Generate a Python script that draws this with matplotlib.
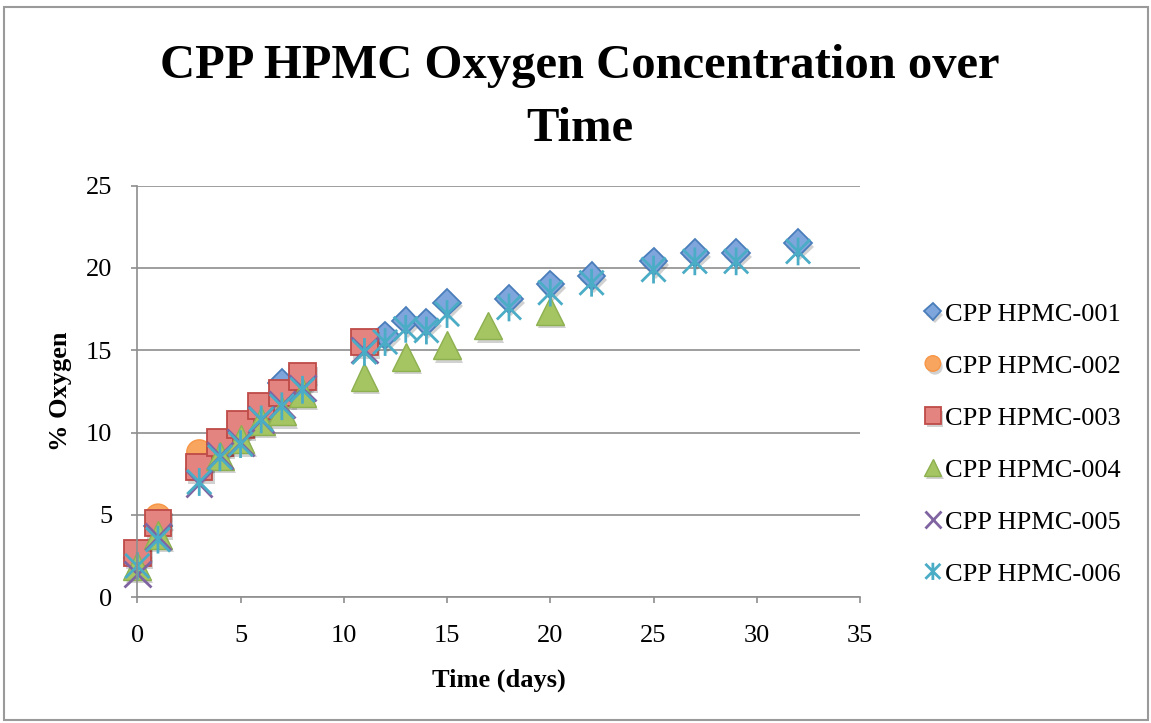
import numpy as np
import matplotlib
matplotlib.use("Agg")
import matplotlib.pyplot as plt
from matplotlib.path import Path
from matplotlib.patches import Rectangle
import matplotlib.patheffects as pe

plt.rcParams['font.family'] = ['Liberation Serif', 'DejaVu Serif']

# Oxygen readings (%) per sample, days since start
days_001 = [0, 1, 3, 4, 5, 6, 7, 8, 12, 13, 14, 15, 18, 20, 22, 25, 27, 29, 32]
oxy_001 = [2.4, 4.3, 7.8, 9.1, 10.2, 11.2, 13.0, 13.1, 15.9, 16.8, 16.7, 17.9,
           18.1, 19.0, 19.5, 20.4, 20.9, 20.9, 21.5]

days_002 = [0, 1, 3, 4, 5, 6, 7, 8]
oxy_002 = [2.6, 4.9, 8.8, 9.2, 10.3, 11.4, 12.3, 13.2]

days_003 = [0, 1, 3, 4, 5, 6, 7, 8, 11]
oxy_003 = [2.7, 4.5, 7.9, 9.4, 10.5, 11.6, 12.4, 13.4, 15.5]

days_004 = [0, 1, 4, 5, 6, 7, 8, 11, 13, 15, 17, 20]
oxy_004 = [1.9, 3.8, 8.6, 9.6, 10.7, 11.3, 12.4, 13.4, 14.6, 15.3, 16.5, 17.4]

days_005 = [0, 1, 3, 4, 5, 6, 7, 8, 11]
oxy_005 = [1.4, 3.7, 6.9, 8.6, 9.4, 10.8, 11.7, 12.7, 15.0]

days_006 = [0, 1, 3, 4, 5, 6, 7, 8, 11, 12, 13, 14, 15, 18, 20, 22, 25, 27, 29, 32]
oxy_006 = [1.9, 3.5, 7.0, 8.5, 9.3, 10.8, 11.6, 12.6, 14.9, 15.5, 16.3, 16.2,
           17.2, 17.6, 18.5, 19.1, 19.9, 20.4, 20.4, 21.0]

labels = ['CPP HPMC-001', 'CPP HPMC-002', 'CPP HPMC-003',
          'CPP HPMC-004', 'CPP HPMC-005', 'CPP HPMC-006']

# asterisk marker: an X with a vertical stroke through it
star_path = Path([(-1, -1), (1, 1), (-1, 1), (1, -1), (0, -1.15), (0, 1.15)],
                 [Path.MOVETO, Path.LINETO, Path.MOVETO, Path.LINETO,
                  Path.MOVETO, Path.LINETO])

shadow = [pe.SimplePatchShadow(offset=(1.5, -2.5), shadow_rgbFace='k', alpha=0.18),
          pe.Normal()]

styles = [
    dict(marker='D', ms=14, mfc='#7FA6DC', mec='#4A7EBB', mew=1.3),
    dict(marker='o', ms=18, mfc='#F8A560', mec='#F79646', mew=1.0),
    dict(marker='s', ms=19, mfc='#E48481', mec='#BE4B48', mew=1.3),
    dict(marker='^', ms=20, mfc='#A5C462', mec='#8DB050', mew=1.0),
    dict(marker='x', ms=19, mfc='none', mec='#8064A2', mew=2.0),
    dict(marker=star_path, ms=20, mfc='none', mec='#4BACC6', mew=2.0),
]

series = [(days_001, oxy_001), (days_002, oxy_002), (days_003, oxy_003),
          (days_004, oxy_004), (days_005, oxy_005), (days_006, oxy_006)]

fig = plt.figure(figsize=(11.51, 7.23), dpi=100)
ax = fig.add_axes([0.1193, 0.1739, 0.6279, 0.5694])

handles = []
for (x, y), st, lab in zip(series, styles, labels):
    h, = ax.plot(x, y, linestyle='none', label=lab, clip_on=False, **st)
    h.set_path_effects(shadow)
    handles.append(h)

ax.set_xlim(0, 35)
ax.set_ylim(0, 25)
ax.set_xticks(np.arange(0, 36, 5))
ax.set_yticks(np.arange(0, 26, 5))
ax.yaxis.grid(True, color='#8E8E8E', linewidth=1.2)
ax.set_axisbelow(True)
for side in ['top', 'right']:
    ax.spines[side].set_visible(False)
for side in ['left', 'bottom']:
    ax.spines[side].set_color('#8E8E8E')
    ax.spines[side].set_linewidth(1.2)
ax.tick_params(axis='both', colors='#8E8E8E', labelcolor='black',
               labelsize=19, length=4, width=1.2)
ax.tick_params(axis='y', pad=14)
ax.tick_params(axis='x', pad=16)

ax.set_xlabel('Time (days)', fontsize=19, fontweight='bold')
ax.set_ylabel('% Oxygen', fontsize=19, fontweight='bold')
ax.xaxis.set_label_coords(0.5, -0.172)
ax.yaxis.set_label_coords(-0.090, 0.5)

fig.text(580 / 1151, 1 - 44 / 723, 'CPP HPMC Oxygen Concentration over\nTime',
         ha='center', va='top', fontsize=35, fontweight='bold', linespacing=1.55)

leg = fig.legend(handles=handles, loc='center left',
                 bbox_to_anchor=(0.791, 0.386), frameon=False, fontsize=19,
                 markerscale=0.62, handlelength=0.7, handletextpad=0.1,
                 labelspacing=1.08, borderpad=0)

# outer chart border
fig.patches.append(Rectangle((4 / 1151, 3 / 723), 1144 / 1151, 713 / 723,
                             transform=fig.transFigure, fill=False,
                             edgecolor='#9A9A9A', linewidth=1.5))

fig.savefig('out.png', dpi=100)
